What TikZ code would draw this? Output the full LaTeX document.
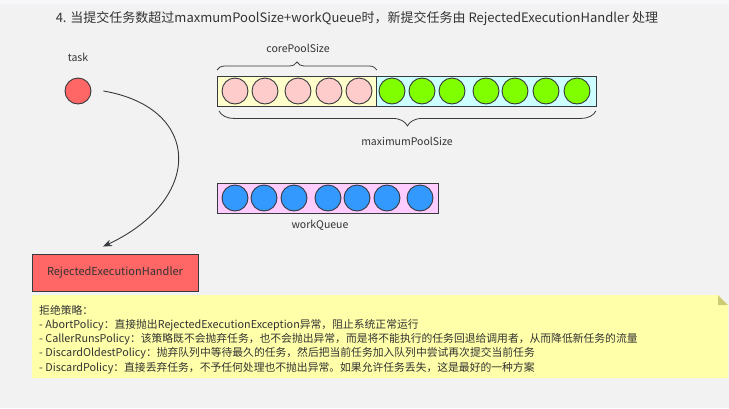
\documentclass[tikz,border=0pt]{standalone}
\usepackage{fontspec}
\setmainfont{Noto Sans CJK SC}
\usetikzlibrary{arrows.meta,decorations.pathreplacing}
\definecolor{bgc}{HTML}{F2F2F2}
\definecolor{topc}{HTML}{F7F7F9}
\definecolor{txt}{HTML}{333333}
\definecolor{edge}{HTML}{36393D}
\definecolor{taskred}{HTML}{FF6666}
\definecolor{coreyel}{HTML}{FFFFCC}
\definecolor{maxcyan}{HTML}{CCFFFF}
\definecolor{corepink}{HTML}{FFCCCC}
\definecolor{grn}{HTML}{80FF00}
\definecolor{qpink}{HTML}{FFCCFF}
\definecolor{blu}{HTML}{3399FF}
\definecolor{notey}{HTML}{FFFFAA}
\definecolor{foldc}{HTML}{CCCC77}
\tikzset{
  ball/.style={circle,draw=edge,line width=0.9pt,minimum size=26pt,inner sep=0pt},
  slot/.style={draw=edge,line width=0.9pt},
  lbl/.style={text=txt,font=\fontsize{10.5}{12}\selectfont,inner sep=0pt},
  bracestyle/.style={draw=edge,line width=0.8pt,decorate},
}
\begin{document}
\begin{tikzpicture}[x=1pt,y=-1pt]
\useasboundingbox (0,0) rectangle (729,408);
\fill[bgc] (0,0) rectangle (729,408);
\fill[topc] (0,0) rectangle (729,4);

% title
\node[text=txt,font=\fontsize{13}{15}\selectfont,inner sep=0pt] (title) at (357,19)
  {4. 当提交任务数超过maxmumPoolSize+workQueue时，新提交任务由 RejectedExecutionHandler 处理};

% task
\node[lbl] (tasklbl) at (78,57) {task};
\node[ball,fill=taskred] (task) at (78,91) {};

% handler
\node[draw=edge,line width=0.9pt,fill=taskred,minimum width=166pt,minimum height=37pt,inner sep=0pt,
  text=txt,font=\fontsize{11}{13}\selectfont] (reh) at (115,272.5) {RejectedExecutionHandler};

\coordinate (arrS) at ([xshift=12pt]task.east);
\coordinate (arrE) at ([xshift=-12pt,yshift=7pt]reh.north);
\draw[edge,line width=0.9pt,-{Stealth[length=9pt,width=7pt]}] (arrS) .. controls (203,108) and (203,200) .. (arrE);

% pool
\node[slot,fill=coreyel,minimum width=159pt,minimum height=30pt,inner sep=0pt,anchor=north west] (core) at (217,76) {};
\node[slot,fill=maxcyan,minimum width=220pt,minimum height=30pt,inner sep=0pt,anchor=north west] (extra) at (376,76) {};
\foreach \x [count=\i] in {235,265,298,329,359}{
  \node[ball,fill=corepink] (c\i) at (\x,91) {};
}
\foreach \x [count=\i] in {392,422,452,486,515,546,577}{
  \node[ball,fill=grn] (g\i) at (\x,91) {};
}
\draw[bracestyle,decoration={brace,amplitude=8pt}] ([yshift=6pt]core.north west) -- ([yshift=6pt]core.north east);
\node[lbl] (corelbl) at (298,48) {corePoolSize};
\draw[bracestyle,decoration={brace,amplitude=15pt}] ([xshift=-1pt,yshift=-4pt]extra.south east) -- ([xshift=2pt,yshift=-4pt]core.south west);
\node[lbl] (maxlbl) at (407,141) {maximumPoolSize};

% work queue
\node[slot,fill=qpink,minimum width=221pt,minimum height=30pt,inner sep=0pt,anchor=north west] (queue) at (217,183) {};
\foreach \x [count=\i] in {235,264,294,328,357,387,420}{
  \node[ball,fill=blu] (q\i) at (\x,198) {};
}
\node[lbl] (qlbl) at (320,225) {workQueue};

% note
\fill[notey] (32,295) -- (718,295) -- (728,305) -- (728,378) -- (32,378) -- cycle;
\fill[foldc] (718,295) -- (718,305) -- (728,305) -- cycle;
\node[text=txt,font=\fontsize{10.8}{14.2}\selectfont,align=left,inner sep=0pt,anchor=north west] (note) at (39,305)
{拒绝策略：\\
- AbortPolicy：直接抛出RejectedExecutionException异常，阻止系统正常运行\\
- CallerRunsPolicy：该策略既不会抛弃任务，也不会抛出异常，而是将不能执行的任务回退给调用者，从而降低新任务的流量\\
- DiscardOldestPolicy：抛弃队列中等待最久的任务，然后把当前任务加入队列中尝试再次提交当前任务\\
- DiscardPolicy：直接丢弃任务，不予任何处理也不抛出异常。如果允许任务丢失，这是最好的一种方案};
\end{tikzpicture}
\end{document}
